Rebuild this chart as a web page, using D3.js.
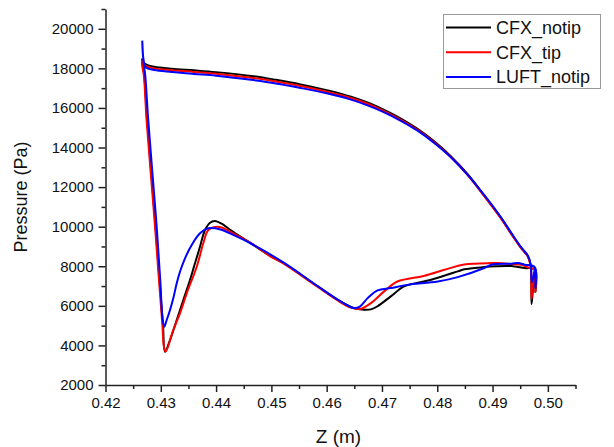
<!DOCTYPE html>
<html>
<head>
<meta charset="utf-8">
<script src="https://cdn.jsdelivr.net/npm/d3@7"></script>
<style>
  body { margin: 0; background: #fff; }
  svg text { font-family: "Liberation Sans", Arial, sans-serif; fill: #111; }
</style>
</head>
<body>
<script>
// series, in drawing order along each closed blade outline: [Z (m), Pressure (Pa)]
const cfxNotip = [
  [0.42662, 18500], [0.4268, 18300], [0.4275, 18180], [0.4288, 18080], [0.432, 17980], [0.436, 17900],
  [0.44, 17810], [0.4463, 17620], [0.4508, 17420], [0.4553, 17190], [0.46, 16900], [0.4644, 16570],
  [0.4675, 16260], [0.4704, 15900], [0.4735, 15450], [0.4765, 14930], [0.4795, 14300], [0.4825, 13550],
  [0.4855, 12650], [0.4885, 11580], [0.4916, 10420], [0.4934, 9650], [0.4952, 8920], [0.4964, 8500],
  [0.4969, 8000],
  [0.49705, 6080], [0.49735, 7000], [0.4977, 7800], [0.49775, 6700], [0.49765, 7850],
  [0.4958, 7910], [0.4934, 8010], [0.4905, 8000], [0.4885, 7960], [0.4849, 7850], [0.4837, 7740],
  [0.4789, 7320], [0.474, 6980], [0.4716, 6480], [0.4692, 5980], [0.468, 5820], [0.4668, 5800],
  [0.465, 5880], [0.4644, 5940], [0.462, 6300], [0.4584, 6980], [0.4523, 8140], [0.4499, 8500],
  [0.4463, 9160], [0.4426, 9830], [0.441, 10150], [0.4398, 10287], [0.4389, 10201], [0.438, 9832],
  [0.43709, 8988], [0.43618, 8149], [0.43528, 7306], [0.43407, 6295], [0.43288, 5284], [0.43167, 4274],
  [0.43076, 3683], [0.4304, 5000], [0.4298, 7200], [0.429, 10200], [0.4282, 13000], [0.4275, 15500],
  [0.427, 17700], [0.42665, 18250], [0.42662, 18500]
];
const cfxTip = [
  [0.42662, 18450], [0.4268, 18230], [0.4275, 18100], [0.4288, 18000], [0.432, 17910], [0.436, 17820],
  [0.44, 17730], [0.4463, 17530], [0.4508, 17340], [0.4553, 17110], [0.46, 16820], [0.4644, 16500],
  [0.4675, 16200], [0.4704, 15840], [0.4735, 15390], [0.4765, 14880], [0.4795, 14250], [0.4825, 13510],
  [0.4855, 12610], [0.4885, 11540], [0.4916, 10380], [0.4934, 9620], [0.4952, 8900], [0.4964, 8480],
  [0.4969, 7980],
  [0.49705, 6340], [0.49735, 7200], [0.4977, 7850], [0.49775, 6700], [0.49765, 7800],
  [0.4967, 7910], [0.4952, 8070], [0.4934, 8110], [0.491, 8160], [0.4898, 8160], [0.4849, 8090],
  [0.4813, 7820], [0.4777, 7520], [0.4728, 7230], [0.4704, 6730], [0.468, 6140], [0.4662, 5850],
  [0.4644, 5910], [0.462, 6270], [0.4584, 6950], [0.4523, 8120], [0.4499, 8490], [0.4463, 9170],
  [0.4426, 9740], [0.441, 9960], [0.44011, 9998], [0.43859, 9832], [0.43769, 9160], [0.4365, 7978],
  [0.43469, 6634], [0.43347, 5623], [0.43226, 4779], [0.4309, 3690], [0.43057, 3940], [0.4303, 5000],
  [0.4297, 7200], [0.4289, 10200], [0.4281, 13000], [0.4274, 15500], [0.42695, 17600], [0.42665, 18150],
  [0.42662, 18450]
];
const luftNotip = [
  [0.42665, 19400], [0.42685, 18500], [0.4273, 18050], [0.4288, 17920], [0.432, 17820], [0.436, 17720],
  [0.44, 17630], [0.4463, 17420], [0.4508, 17240], [0.4553, 17010], [0.46, 16740], [0.4644, 16420],
  [0.4675, 16120], [0.4704, 15780], [0.4735, 15340], [0.4765, 14840], [0.4795, 14220], [0.4825, 13500],
  [0.4855, 12620], [0.4885, 11590], [0.4916, 10440], [0.4934, 9680], [0.4952, 8950], [0.4964, 8530],
  [0.4969, 8100],
  [0.4971, 7200], [0.49735, 7400], [0.4977, 7900], [0.49775, 6900], [0.49765, 7950],
  [0.4958, 8080], [0.4946, 8160], [0.4934, 8130], [0.4898, 8080], [0.4885, 7910], [0.4837, 7450],
  [0.4801, 7230], [0.4746, 7060], [0.4716, 6900], [0.4692, 6780], [0.4674, 6390], [0.466, 5960],
  [0.465, 5890], [0.4644, 5930], [0.462, 6310], [0.4584, 6990], [0.4523, 8170], [0.4463, 9150],
  [0.4426, 9650], [0.4408, 9860], [0.43859, 9918], [0.43709, 9665], [0.43559, 9074], [0.43438, 8402],
  [0.43347, 7725], [0.43288, 7139], [0.43226, 6381], [0.43167, 5790], [0.43107, 5284], [0.43063, 4946],
  [0.4303, 5400], [0.4299, 7300], [0.4292, 10200], [0.4284, 13000], [0.4277, 15500], [0.4272, 17600],
  [0.42685, 18400], [0.42665, 19400]
];

const seriesNames = ["CFX_notip", "CFX_tip", "LUFT_notip"];
const seriesColors = ["#000000", "#ff0000", "#0000ff"];
const seriesData = [cfxNotip, cfxTip, luftNotip];

const xTicks = [0.42, 0.43, 0.44, 0.45, 0.46, 0.47, 0.48, 0.49, 0.50];
const xMinor = [0.425, 0.435, 0.445, 0.455, 0.465, 0.475, 0.485, 0.495, 0.505];
const yTicks = [2000, 4000, 6000, 8000, 10000, 12000, 14000, 16000, 18000, 20000];
const yMinor = [3000, 5000, 7000, 9000, 11000, 13000, 15000, 17000, 19000, 21000];

const width = 614, height = 447;
const plotLeft = 105.5, plotRight = 575.5, plotTop = 9, plotBottom = 385;

const svg = d3.select("body").append("svg")
  .attr("width", width)
  .attr("height", height);

const x = d3.scaleLinear().domain([0.42, 0.505]).range([plotLeft, plotRight]);
const y = d3.scaleLinear().domain([2000, 21000]).range([plotBottom, plotTop]);

// curves
const line = d3.line()
  .x(d => x(d[0]))
  .y(d => y(d[1]))
  .curve(d3.curveCatmullRom.alpha(0.5));

seriesData.forEach((data, i) => {
  svg.append("path")
    .datum(data)
    .attr("d", line)
    .attr("fill", "none")
    .attr("stroke", seriesColors[i])
    .attr("stroke-width", 2)
    .attr("stroke-linejoin", "round");
});

// axes
const axisColor = "#222";
const yAxis = svg.append("g")
  .attr("transform", `translate(${plotLeft},0)`)
  .call(d3.axisLeft(y).tickValues(yTicks).tickSize(7).tickPadding(5).tickFormat(d3.format("d")).tickSizeOuter(0));
const yAxisMinor = svg.append("g")
  .attr("transform", `translate(${plotLeft},0)`)
  .call(d3.axisLeft(y).tickValues(yMinor).tickSize(4).tickFormat("").tickSizeOuter(0));

const xAxis = svg.append("g")
  .attr("transform", `translate(0,${plotBottom})`)
  .call(d3.axisBottom(x).tickValues(xTicks).tickSize(7).tickPadding(5).tickFormat(d3.format(".2f")).tickSizeOuter(0));
const xAxisMinor = svg.append("g")
  .attr("transform", `translate(0,${plotBottom})`)
  .call(d3.axisBottom(x).tickValues(xMinor).tickSize(4).tickFormat("").tickSizeOuter(0));

[yAxis, yAxisMinor, xAxis, xAxisMinor].forEach(a => {
  a.selectAll("path, line").attr("stroke", axisColor).attr("stroke-width", 1.5);
  a.selectAll("text").style("font-size", "15px").attr("fill", "#111");
});
yAxisMinor.select(".domain").remove();
xAxisMinor.select(".domain").remove();

// axis titles
svg.append("text")
  .attr("x", (plotLeft + plotRight) / 2 - 2)
  .attr("y", 443)
  .attr("text-anchor", "middle")
  .style("font-size", "19px")
  .text("Z (m)");

svg.append("text")
  .attr("transform", `translate(27,${(plotTop + plotBottom) / 2}) rotate(-90)`)
  .attr("text-anchor", "middle")
  .style("font-size", "18px")
  .text("Pressure (Pa)");

// legend
const legend = svg.append("g");
legend.append("rect")
  .attr("x", 443.5)
  .attr("y", 14.5)
  .attr("width", 157)
  .attr("height", 74)
  .attr("fill", "#fff")
  .attr("stroke", "#999")
  .attr("stroke-width", 1);

seriesNames.forEach((name, i) => {
  const ly = 27.5 + i * 24.7;
  legend.append("line")
    .attr("x1", 446).attr("x2", 491)
    .attr("y1", ly).attr("y2", ly)
    .attr("stroke", seriesColors[i])
    .attr("stroke-width", 2);
  legend.append("text")
    .attr("x", 496)
    .attr("y", ly)
    .attr("dy", "0.36em")
    .style("font-size", "18px")
    .text(name);
});
</script>
</body>
</html>
